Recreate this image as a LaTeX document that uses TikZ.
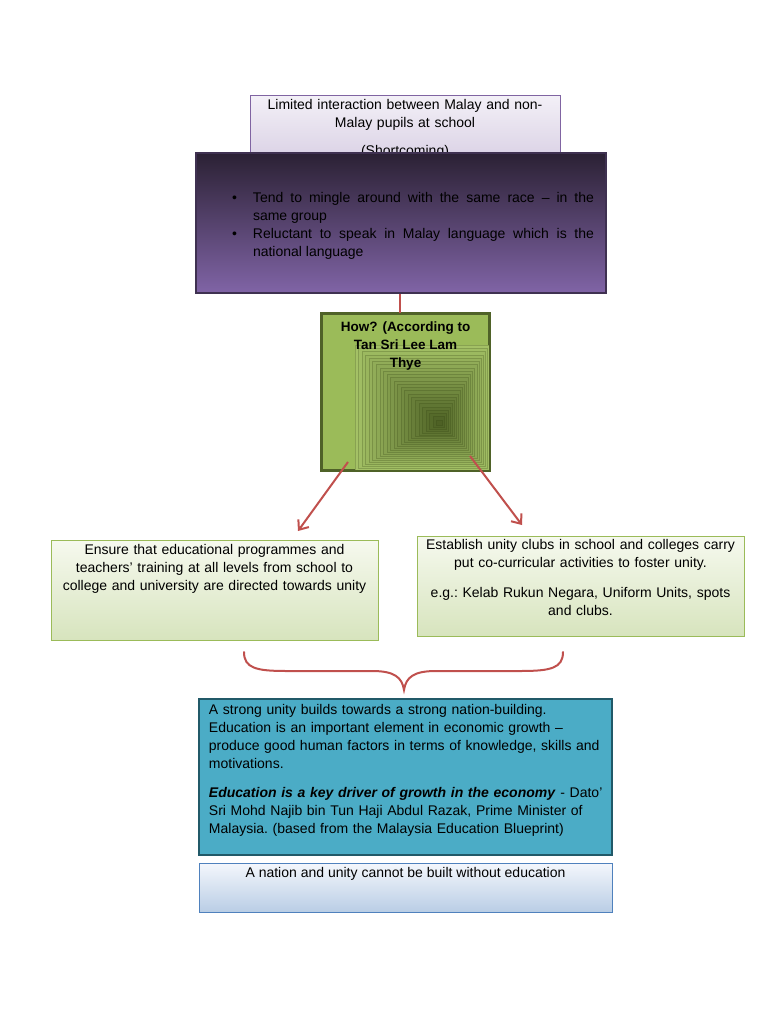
\documentclass[tikz,border=0pt]{standalone}
\usepackage{fontspec}
\setmainfont{Liberation Sans}
\usetikzlibrary{arrows.meta,calc,positioning}
\definecolor{lavedge}{HTML}{8064A2}
\definecolor{lavtop}{HTML}{F3F0F7}
\definecolor{lavbot}{HTML}{D9D0E4}
\definecolor{plumtop}{HTML}{2B2134}
\definecolor{plumbot}{HTML}{8064A6}
\definecolor{plumedge}{HTML}{3F3151}
\definecolor{linkred}{HTML}{C0504D}
\definecolor{howfill}{HTML}{9BBB59}
\definecolor{howedge}{HTML}{4F6228}
\definecolor{howlight}{HTML}{A4C166}
\definecolor{howdark}{HTML}{46591F}
\definecolor{leaftop}{HTML}{F6F9EF}
\definecolor{leafbot}{HTML}{D7E4BD}
\definecolor{tealfill}{HTML}{4BACC6}
\definecolor{tealedge}{HTML}{215968}
\definecolor{skytop}{HTML}{F4F7FC}
\definecolor{skybot}{HTML}{B9CDE5}
\definecolor{skyedge}{HTML}{4F81BD}
\tikzset{
  body/.style={font=\fontsize{14}{18}\selectfont\frenchspacing, text=black},
  issue/.style={
    body, draw=lavedge, line width=0.8pt,
    top color=lavtop, bottom color=lavbot,
    minimum width=310, minimum height=65,
    align=center, text width=300, inner ysep=4pt
  },
  gapbox/.style={
    draw=plumedge, line width=2.2pt,
    top color=plumtop, bottom color=plumbot,
    minimum width=410, minimum height=140
  },
  bullets/.style={body, text width=362, align=justify, inner sep=0pt},
  howbox/.style={
    draw=howedge, line width=2pt, fill=howfill,
    minimum width=167, minimum height=156
  },
  howtext/.style={font=\fontsize{13.5}{18}\selectfont\bfseries, align=center, inner sep=0pt},
  stepbox/.style={
    draw=howfill, line width=0.8pt,
    top color=leaftop, bottom color=leafbot,
    minimum width=327, minimum height=100
  },
  steptext/.style={body, align=center, text width=320, inner sep=0pt},
  resultbox/.style={
    draw=tealedge, line width=2.5pt, fill=tealfill,
    minimum width=413, minimum height=156
  },
  closebox/.style={
    draw=skyedge, line width=0.8pt,
    top color=skytop, bottom color=skybot,
    minimum width=413, minimum height=49
  },
  link/.style={draw=linkred, line width=2pt},
  pointer/.style={link, -{Straight Barb[length=8pt,width=13pt,line width=2pt]}}
}

\begin{document}
\begin{tikzpicture}[x=1pt,y=-1pt]
\useasboundingbox (0,0) rectangle (768,1024);

% --- Shortcoming ---
\node[issue, anchor=north] (issue) at (405,95)
  {Limited interaction between Malay and non-\\Malay pupils at school\\[10pt](Shortcoming)};
\node[gapbox] (gap) at (401,223) {};
\node[bullets] (gaptext) at (413,226) {%
  \noindent\hangindent=21pt\hangafter=1\makebox[21pt][l]{\textbullet}Tend to mingle around with the same race -- in the\linebreak same group\par
  \noindent\hangindent=21pt\hangafter=1\makebox[21pt][l]{\textbullet}Reluctant to speak in Malay language which is the\linebreak national language\par};

% --- How ---
\node[howbox] (how) at (405.5,392) {};
\coordinate (hc) at (440,423);
\foreach \i in {0,...,23} {
  \pgfmathsetmacro\t{1-\i/24}
  \pgfmathtruncatemacro\p{\i*4}
  \pgfmathtruncatemacro\q{30+\i*3}
  \filldraw[draw=howdark!\q!howlight, line width=0.5pt, fill=howdark!\p!howlight]
    ($(hc)+\t*(-85,-78)$) rectangle ($(hc)+\t*(49,47)$);
}
\draw[draw=howedge, line width=2pt] (how.north west) rectangle (how.south east);
\node[howtext, below=9pt of how.north] (howtext) {How? (According to\\Tan Sri Lee Lam\\Thye};
\draw[link] (gap.south -| 400,0) -- (how.north -| 400,0);

% --- Steps ---
\node[stepbox] (ensure) at (214.5,590) {};
\node[steptext, below=5pt of ensure.north] (ensuretext)
  {Ensure that educational programmes and\\teachers’ training at all levels from school to\\college and university are directed towards unity};
\node[stepbox] (clubs) at (580.5,586) {};
\node[steptext, below=4pt of clubs.north] (clubstext)
  {Establish unity clubs in school and colleges carry\\put co-curricular activities to foster unity.\\[12pt]e.g.: Kelab Rukun Negara, Uniform Units, spots\\and clubs.};

\coordinate (lfrom) at (348,462);
\coordinate (lto) at (298,531);
\coordinate (rfrom) at (470,456);
\coordinate (rto) at (522,525);
\draw[pointer] (lfrom) -- (lto);
\draw[pointer] (rfrom) -- (rto);

% --- Brace ---
\coordinate (braceL) at (244,652);
\coordinate (braceR) at (563,652);
\coordinate (braceTip) at (404,690);
\draw[link, line cap=round] (braceL) .. controls (244,668) and (256,671) .. (286,671) -- (372,671)
  .. controls (394,671) and (402,677) .. (braceTip)
  .. controls (406,677) and (414,671) .. (436,671) -- (521,671)
  .. controls (551,671) and (563,668) .. (braceR);

% --- Result ---
\node[resultbox] (result) at (405.5,777) {};
\node[body, align=left, text width=398, inner sep=0pt, anchor=north west] (resulttext)
  at ($(result.north west)+(11,6)$)
  {A strong unity builds towards a strong nation-building.\\
   Education is an important element in economic growth --\\
   produce good human factors in terms of knowledge, skills and\\
   motivations.\\[11pt]
   \textbf{\textit{Education is a key driver of growth in the economy}} - Dato’\\
   Sri Mohd Najib bin Tun Haji Abdul Razak, Prime Minister of\\
   Malaysia. (based from the Malaysia Education Blueprint)};

\node[closebox] (close) at (405.5,887.5) {};
\node[body, inner sep=0pt, below=5pt of close.north] (closetext)
  {A nation and unity cannot be built without education};

\end{tikzpicture}
\end{document}
